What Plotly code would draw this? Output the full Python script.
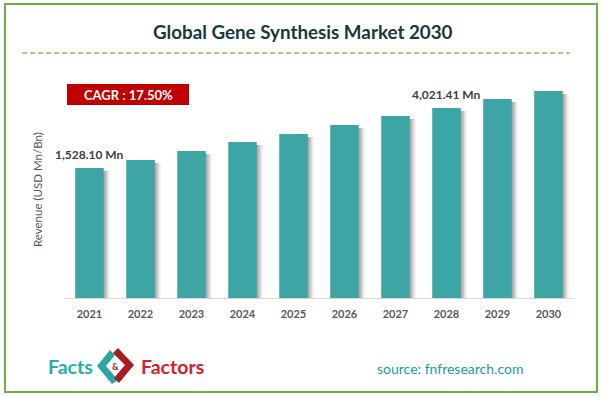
import plotly.graph_objects as go

# ---- data ----
years = ["2021", "2022", "2023", "2024", "2025", "2026", "2027", "2028", "2029", "2030"]
revenue_mn = [1528.10, 1861, 2235, 2609, 2941, 3315, 3689, 4021.41, 4396, 4728]
label_years = ["2021", "2028"]
label_texts = ["1,528.10 Mn", "4,021.41 Mn"]
cagr_text = "CAGR : 17.50%"
title_text = "Global Gene Synthesis Market 2030"
yaxis_title = "Revenue (USD Mn/Bn)"
source_text = "source: fnfresearch.com"

# ---- layout geometry (pixels) ----
W, H = 603, 397
L, R, T, B = 64, 574, 85, 298
axis_floor = -3874
axis_ceil = 4977
px_per_unit = (B - T) / (axis_ceil - axis_floor)


def px(x):
    return (x - L) / (R - L)


def py(y):
    return (B - y) / (B - T)


bar_color = "#3da6a5"
bar_w = 0.56
slot_px = (R - L) / len(years)

fig = go.Figure()

# soft shadows to the right of each bar
for shift, alpha in [(6, 0.06), (4.5, 0.08), (3, 0.12), (1.5, 0.12)]:
    fig.add_trace(go.Bar(
        x=years,
        y=[v - 3 / px_per_unit - axis_floor for v in revenue_mn],
        base=axis_floor,
        width=bar_w,
        offset=-bar_w / 2 + shift / slot_px,
        marker=dict(color=f"rgba(0,0,0,{alpha})", line=dict(width=0)),
        hoverinfo="skip",
        showlegend=False,
    ))

fig.add_trace(go.Bar(
    x=years,
    y=[v - axis_floor for v in revenue_mn],
    base=axis_floor,
    width=bar_w,
    offset=-bar_w / 2,
    marker=dict(color=bar_color, line=dict(width=0)),
    showlegend=False,
))

annotations = []
for yr, txt in zip(label_years, label_texts):
    i = years.index(yr)
    annotations.append(dict(
        x=i, y=revenue_mn[i], xref="x", yref="y", text=f"<b>{txt}</b>", showarrow=False,
        xanchor="center", yanchor="bottom", yshift=4,
        font=dict(family="Lato", size=12, color="#404040"),
    ))

annotations += [
    dict(x=px(302.5), y=py(32), xref="paper", yref="paper", text=f"<b>{title_text}</b>",
         showarrow=False, font=dict(family="Lato", size=18.8, color="#17393a"),
         xanchor="center", yanchor="middle"),
    dict(x=px(128), y=py(94.5), xref="paper", yref="paper", text=f"<b>{cagr_text}</b>",
         showarrow=False, font=dict(family="Lato", size=13, color="white"),
         xanchor="center", yanchor="middle"),
    dict(x=px(37), y=py(190), xref="paper", yref="paper", text=yaxis_title, textangle=-90,
         showarrow=False, font=dict(family="Lato", size=11.5, color="#595959"),
         xanchor="center", yanchor="middle"),
    dict(x=px(70), y=py(366), xref="paper", yref="paper", text="<b>Facts</b>",
         showarrow=False, font=dict(family="Lato", size=19.5, color="#27b0aa"),
         xanchor="center", yanchor="middle"),
    dict(x=px(172.5), y=py(366), xref="paper", yref="paper", text="<b>Factors</b>",
         showarrow=False, font=dict(family="Lato", size=19.5, color="#d3202f"),
         xanchor="center", yanchor="middle"),
    dict(x=px(115), y=py(366), xref="paper", yref="paper", text="<b>&</b>",
         showarrow=False, font=dict(family="Lato", size=9, color="#9b1b22"),
         xanchor="center", yanchor="middle"),
    dict(x=px(450), y=py(368), xref="paper", yref="paper", text=source_text,
         showarrow=False, font=dict(family="Lato", size=14, color="#1b9e94"),
         xanchor="center", yanchor="middle"),
]


def path(points):
    return "M " + " L ".join(f"{px(x)},{py(y)}" for x, y in points) + " Z"


shapes = [
    dict(type="rect", xref="paper", yref="paper", x0=px(5), x1=px(597), y0=py(4), y1=py(392),
         line=dict(color="#70ad47", width=2), fillcolor="rgba(0,0,0,0)", layer="below"),
    dict(type="line", xref="paper", yref="paper", x0=px(22), x1=px(570), y0=py(53), y1=py(53),
         line=dict(color="#8fc163", width=1.5, dash="5px,3px")),
    dict(type="rect", xref="paper", yref="paper", x0=px(67), x1=px(189), y0=py(84), y1=py(105),
         fillcolor="#c00000", line=dict(width=0)),
    dict(type="path", xref="paper", yref="paper",
         path=path([(110, 350), (97, 366), (112, 384), (118, 380), (106, 366), (115, 355)]),
         fillcolor="#2aa7a1", line=dict(width=0)),
    dict(type="path", xref="paper", yref="paper",
         path=path([(118, 348), (134, 365), (119, 383), (114, 378), (125, 365), (113, 353)]),
         fillcolor="#a81d24", line=dict(width=0)),
]

fig.update_layout(
    width=W, height=H,
    margin=dict(l=L, r=W - R, t=T, b=H - B, pad=0),
    barmode="overlay",
    plot_bgcolor="white", paper_bgcolor="white",
    xaxis=dict(
        type="category", range=[-0.5, len(years) - 0.5], showgrid=False, zeroline=False,
        showline=True, linecolor="#d9d9d9", linewidth=1,
        ticks="", tickfont=dict(family="Lato", size=11, color="#595959", weight="bold"),
        ticklabelstandoff=6,
    ),
    yaxis=dict(range=[axis_floor, axis_ceil], visible=False, showgrid=False, zeroline=False),
    annotations=annotations,
    shapes=shapes,
    showlegend=False,
)

fig.write_html("out.html", config={"displayModeBar": False},
               post_script="document.body.style.margin='0';")
